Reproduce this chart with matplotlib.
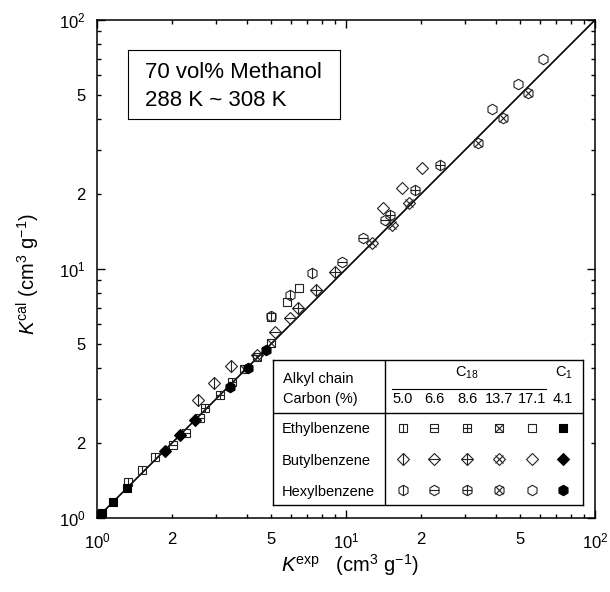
import numpy as np
import matplotlib
matplotlib.use("Agg")
import matplotlib.pyplot as plt
from matplotlib.ticker import FixedLocator, FixedFormatter, NullFormatter

plt.rcParams['font.family'] = ['Liberation Sans', 'DejaVu Sans']
plt.rcParams['mathtext.fontset'] = 'custom'
plt.rcParams['mathtext.rm'] = 'Liberation Sans'
plt.rcParams['mathtext.it'] = 'Liberation Sans:italic'

# columns: C18 5.0, 6.6, 8.6, 13.7, 17.1 and C1 4.1 (% carbon)
carbon = ['5.0', '6.6', '8.6', '13.7', '17.1', '4.1']
solutes = ['Ethylbenzene', 'Butylbenzene', 'Hexylbenzene']

# K exp / K cal, three temperatures per column
ethyl_exp = [[1.33, 1.52, 1.71], [2.02, 2.28, 2.59], [2.71, 3.12, 3.48],
             [3.9, 4.4, 5.0], [5.0, 5.8, 6.5], [1.05, 1.16, 1.32]]
ethyl_cal = [[1.39, 1.56, 1.76], [1.96, 2.19, 2.52], [2.76, 3.12, 3.51],
             [3.95, 4.45, 5.05], [6.4, 7.4, 8.4], [1.05, 1.16, 1.32]]
butyl_exp = [[2.55, 2.95, 3.45], [4.4, 5.2, 5.96], [6.4, 7.6, 9.0],
             [12.7, 15.3, 17.9], [14.1, 16.8, 20.2], [1.87, 2.15, 2.48]]
butyl_cal = [[2.98, 3.49, 4.08], [4.5, 5.6, 6.35], [7.0, 8.2, 9.7],
             [12.7, 15.0, 18.4], [17.6, 21.2, 25.4], [1.86, 2.15, 2.48]]
hexyl_exp = [[5.0, 5.96, 7.3], [9.6, 11.7, 14.3], [15.0, 18.9, 23.9],
             [33.9, 42.7, 53.8], [38.5, 49.1, 61.8], [3.42, 4.04, 4.77]]
hexyl_cal = [[6.5, 7.86, 9.6], [10.7, 13.3, 15.8], [16.5, 20.8, 26.2],
             [32.1, 40.4, 50.9], [43.9, 55.3, 69.7], [3.36, 4.00, 4.73]]

W, H = 610, 592
fig = plt.figure(figsize=(W / 100, H / 100), dpi=100)

def frac(x0, y0, x1, y1):
    # pixel box -> figure fraction rect
    return [x0 / W, 1 - y1 / H, (x1 - x0) / W, (y1 - y0) / H]

ax = fig.add_axes(frac(97, 20, 595, 518))

# marker shapes: base marker, size, size of inner lines
base = {'s': ('s', 6.0, 6.0, 6.0, 6.0),
        'D': ('D', 6.0, 8.5, 8.5, 6.0),
        'h': ('h', 7.5, 7.5, 6.5, 5.3)}
decos = ['|', '_', '+', 'x', None, 'fill']
ec = '#222222'
lw = 0.8

def draw(a, mk, deco, x, y, **kw):
    m, ms, vs, hs, xs = base[mk]
    if deco == 'fill':
        a.plot(x, y, ls='none', marker=m, ms=ms, mfc='black', mec='black', mew=lw, **kw)
        return
    a.plot(x, y, ls='none', marker=m, ms=ms, mfc='none', mec=ec, mew=lw, **kw)
    if deco in ('|', '+'):
        a.plot(x, y, ls='none', marker='|', ms=vs, mec=ec, mew=lw, **kw)
    if deco in ('_', '+'):
        a.plot(x, y, ls='none', marker='_', ms=hs, mec=ec, mew=lw, **kw)
    if deco == 'x':
        a.plot(x, y, ls='none', marker='x', ms=xs, mec=ec, mew=lw, **kw)

ax.plot([1, 100], [1, 100], color='black', lw=1.2, zorder=1)

for mk, xs_, ys_ in [('s', ethyl_exp, ethyl_cal), ('D', butyl_exp, butyl_cal),
                     ('h', hexyl_exp, hexyl_cal)]:
    for i, deco in enumerate(decos):
        draw(ax, mk, deco, xs_[i], ys_[i], zorder=3, clip_on=False)

ax.set_xscale('log')
ax.set_yscale('log')
ax.set_xlim(1, 100)
ax.set_ylim(1, 100)

major = [1, 10, 100]
minor = [v * d for d in (1, 10) for v in range(2, 10)]
lab_major = [r'$\mathregular{10^{0}}$', r'$\mathregular{10^{1}}$', r'$\mathregular{10^{2}}$']
lab_minor = ['2' if v in (2, 20) else '5' if v in (5, 50) else '' for v in minor]
for axis in (ax.xaxis, ax.yaxis):
    axis.set_major_locator(FixedLocator(major))
    axis.set_major_formatter(FixedFormatter(lab_major))
    axis.set_minor_locator(FixedLocator(minor))
    axis.set_minor_formatter(FixedFormatter(lab_minor))
ax.tick_params(which='both', direction='in', top=True, right=True, labelsize=12, width=1.0)
ax.tick_params(which='major', length=6)
ax.tick_params(which='minor', length=3)
ax.tick_params(axis='x', which='both', pad=10)
ax.tick_params(axis='y', which='both', pad=8)
for s in ax.spines.values():
    s.set_linewidth(1.1)

fig.text(350 / W, 1 - 565 / H, r'$\mathit{K}^{\mathrm{exp}}$   (cm$^{3}$ g$^{-1}$)',
         ha='center', va='center', fontsize=14.5)
fig.text(28 / W, 1 - 274 / H, r'$\mathit{K}^{\mathrm{cal}}$ (cm$^{3}$ g$^{-1}$)',
         ha='center', va='center', rotation=90, fontsize=14.5)

# condition box
tb = fig.add_axes(frac(128, 50, 340, 119))
tb.set_xlim(128, 340)
tb.set_ylim(119, 50)
tb.set_xticks([])
tb.set_yticks([])
tb.text(145, 78, '70 vol% Methanol', fontsize=16, va='baseline')
tb.text(145, 106, '288 K ~ 308 K', fontsize=16, va='baseline')

# legend table
lg = fig.add_axes(frac(273, 360, 583, 505))
lg.set_xlim(273, 583)
lg.set_ylim(505, 360)
lg.set_xticks([])
lg.set_yticks([])
for s in lg.spines.values():
    s.set_linewidth(1.0)
lg.plot([385, 385], [360, 505], color='black', lw=1.0)
lg.plot([273, 583], [413, 413], color='black', lw=1.0)
lg.plot([392, 546], [389, 389], color='black', lw=0.8)
fs = 10.5
lg.text(283, 383, 'Alkyl chain', fontsize=fs, va='baseline')
lg.text(283, 403, 'Carbon (%)', fontsize=fs, va='baseline')
lg.text(467, 377, r'C$_{\mathregular{18}}$', fontsize=fs, va='baseline', ha='center')
lg.text(564, 377, r'C$_{\mathregular{1}}$', fontsize=fs, va='baseline', ha='center')
col_x = [403, 434, 467, 499, 532, 563]
for cx, c in zip(col_x, carbon):
    lg.text(cx, 403, c, fontsize=fs, va='baseline', ha='center')
row_y = [428, 459, 490]
row_base = [433, 465, 496]
for name, yb in zip(solutes, row_base):
    lg.text(282, yb, name, fontsize=fs, va='baseline')
for mk, ry in zip(['s', 'D', 'h'], row_y):
    for cx, deco in zip(col_x, decos):
        draw(lg, mk, deco, [cx], [ry])

fig.savefig('out.png', dpi=100)
